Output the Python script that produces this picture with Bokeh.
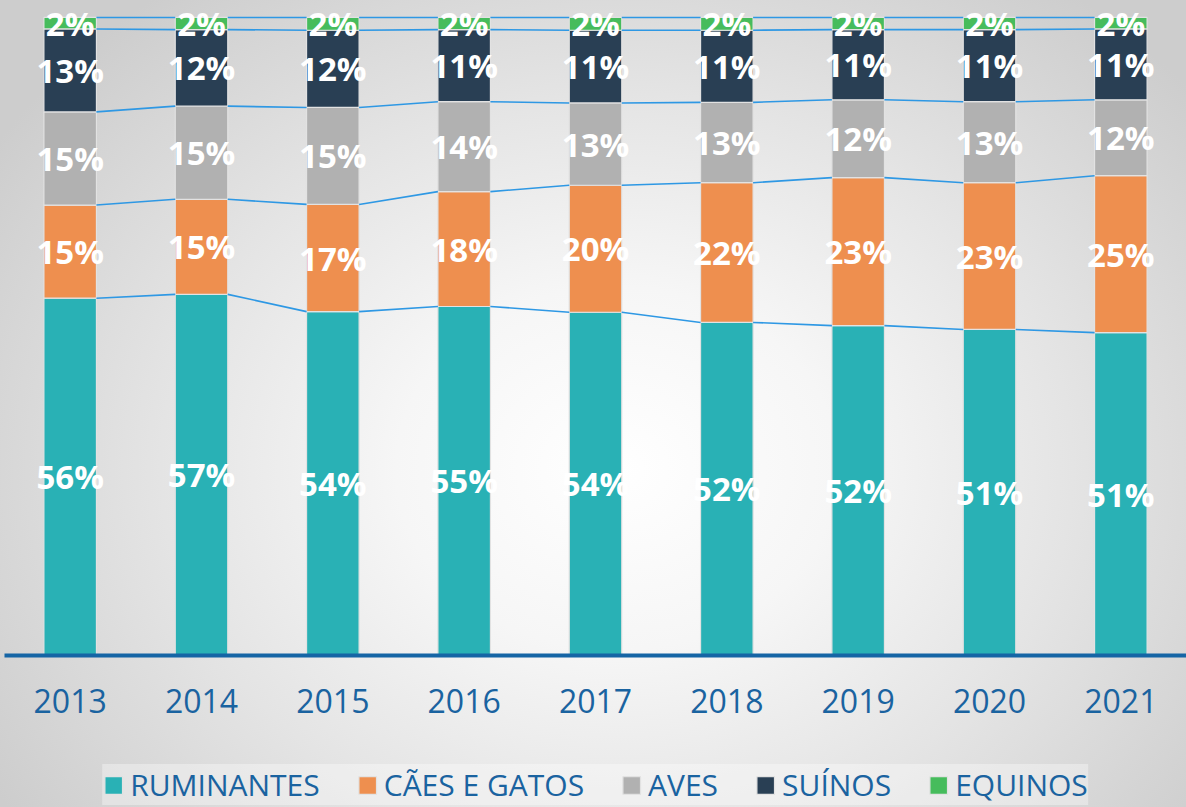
from bokeh.plotting import figure
from bokeh.layouts import column
from bokeh.models import ColumnDataSource, FactorRange, Range1d, Legend, LegendItem
from bokeh.transform import dodge
from bokeh.core.properties import value
from bokeh.embed import file_html
from bokeh.resources import INLINE

# ---------------- data ----------------
years = ["2013", "2014", "2015", "2016", "2017", "2018", "2019", "2020", "2021"]
series_names = ["RUMINANTES", "CÃES E GATOS", "AVES", "SUÍNOS", "EQUINOS"]
ruminantes = [56.0, 56.6, 53.9, 54.7, 53.8, 52.2, 51.7, 51.1, 50.6]
caes_gatos = [14.6, 14.9, 16.8, 18.0, 19.9, 21.9, 23.2, 23.0, 24.6]
aves = [14.6, 14.6, 15.2, 14.1, 12.9, 12.6, 12.2, 12.7, 11.9]
suinos = [13.0, 12.0, 12.1, 11.3, 11.4, 11.3, 11.0, 11.3, 11.1]
equinos = [1.8, 1.9, 2.0, 1.9, 2.0, 2.0, 1.9, 1.9, 1.8]
colors = ["#29b1b5", "#ee8f4f", "#b1b1b1", "#293f54", "#46bc5c"]

series = [ruminantes, caes_gatos, aves, suinos, equinos]
keys = ["rum", "cae", "ave", "sui", "equ"]

FONT = "Open Sans"
BLUE_TXT = "#1a63a0"
BAR_LINE = "#e2e2e2"

data = {"year": years}
for k, s in zip(keys, series):
    data[k] = [v / 100.0 for v in s]
src = ColumnDataSource(data)

# ---------------- main chart ----------------
p = figure(
    width=1186, height=740,
    x_range=FactorRange(*years),
    y_range=Range1d(0, 1.0172),
    output_backend="svg", toolbar_location=None,
    y_axis_location=None,
    min_border=0, min_border_top=6, min_border_bottom=85,
    min_border_left=4, min_border_right=0,
    background_fill_color=None, border_fill_color=None,
    outline_line_color=None,
)

bars = p.vbar_stack(keys, x="year", width=0.4, color=colors, source=src,
                    line_color=BAR_LINE, line_width=1.2)

# connector lines between bars (tops of each cumulative level)
cum = [0.0] * len(years)
for s in series:
    cum = [c + v / 100.0 for c, v in zip(cum, s)]
    seg = ColumnDataSource(dict(year0=years[:-1], year1=years[1:],
                                y0=cum[:-1], y1=cum[1:]))
    p.segment(x0=dodge("year0", 0.2, range=p.x_range), y0="y0",
              x1=dodge("year1", -0.2, range=p.x_range), y1="y1",
              source=seg, line_color="#2e98e4", line_width=1.6)

# percentage labels
lx, ly, lt = [], [], []
base = [0.0] * len(years)
for s in series:
    for i, v in enumerate(s):
        lx.append(years[i])
        ly.append(base[i] + v / 200.0)
        lt.append(f"{round(v)}%")
    base = [b + v / 100.0 for b, v in zip(base, s)]
lab = ColumnDataSource(dict(x=lx, y=ly, t=lt))
p.text(x="x", y="y", text="t", source=lab, text_align="center",
       text_baseline="middle", text_color="white",
       text_font=value(FONT), text_font_style="bold", text_font_size="33px")

p.xgrid.grid_line_color = None
p.ygrid.grid_line_color = None
ax = p.xaxis[0]
ax.axis_line_color = "#1565a5"
ax.axis_line_width = 4
ax.major_tick_line_color = None
ax.minor_tick_line_color = None
ax.major_tick_out = 0
ax.major_tick_in = 0
ax.major_label_standoff = 33
ax.major_label_text_font = FONT
ax.major_label_text_font_size = "32px"
ax.major_label_text_color = BLUE_TXT

# ---------------- legend strip ----------------
leg = figure(
    width=1186, height=67,
    x_range=p.x_range, y_range=Range1d(10, 11),
    output_backend="svg", toolbar_location=None,
    x_axis_location=None, y_axis_location=None,
    min_border=0,
    background_fill_color=None, border_fill_color=None,
    outline_line_color=None,
)
leg.xgrid.grid_line_color = None
leg.ygrid.grid_line_color = None
proxies = leg.vbar_stack(keys, x="year", width=0.4, color=colors, source=src,
                         line_color=BAR_LINE, line_width=1.2)
items = [LegendItem(label=n, renderers=[r]) for n, r in zip(series_names, proxies)]
legend = Legend(items=items, orientation="horizontal", location="top_center",
                glyph_width=22, glyph_height=22, label_standoff=6, spacing=36,
                padding=15, margin=24,
                label_text_font=FONT, label_text_font_size="30px",
                label_text_color=BLUE_TXT,
                background_fill_color="white", background_fill_alpha=0.35,
                border_line_color=None)
leg.add_layout(legend)

layout = column(p, leg, spacing=0, styles={
    "background": "radial-gradient(ellipse 62% 75% at 52% 58%, #ffffff 0%, #f6f6f6 30%, #e4e4e4 62%, #cdcdcd 100%)"
})

open("out.html", "w").write(file_html(layout, INLINE))
